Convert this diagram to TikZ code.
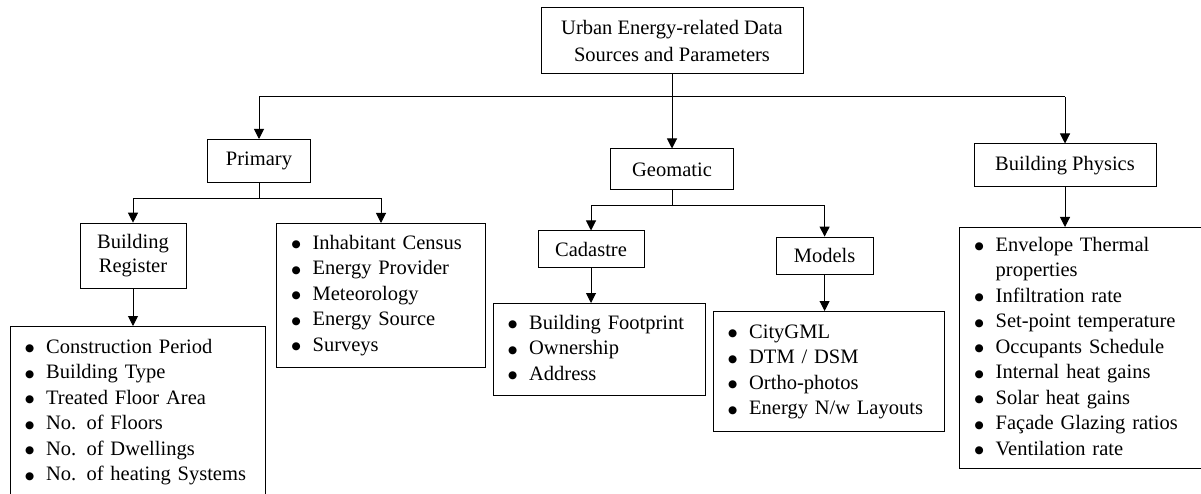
\documentclass[tikz,border=0pt]{standalone}
\usepackage{fontspec}
\setmainfont{Liberation Serif}
\newfontfamily\symfont{DejaVu Sans}
\usetikzlibrary{arrows.meta}
\newcommand{\bigbul}{\raisebox{1.6pt}{\symfont\fontsize{10.5}{10.5}\selectfont ●}}
\begin{document}
\begin{tikzpicture}[x=1pt,y=-1pt,
  box/.style={draw, line width=1pt, inner sep=0pt, align=center, font=\fontsize{20.5}{25.5}\selectfont},
  listbox/.style={draw, line width=1pt, anchor=north west, inner xsep=15pt, inner ysep=2pt, align=left, font=\fontsize{20.5}{25.5}\selectfont},
  arr/.style={line width=1pt, -{Triangle[width=10pt,length=10pt]}},
  ln/.style={line width=1pt}]
\useasboundingbox (0,0) rectangle (1201,494);

% header boxes
\node[box, minimum width=262pt, minimum height=66pt, font=\fontsize{20.5}{26.5}\selectfont] (top) at (672,41) {Urban Energy-related Data\\Sources and Parameters};
\node[box, minimum width=102.5pt, minimum height=43pt] (prim) at (259,161) {Primary};
\node[box, minimum width=123pt, minimum height=41pt] (geo) at (672,169.5) {Geomatic};
\node[box, minimum width=182pt, minimum height=43pt] (bp) at (1065,165.5) {Building Physics};
\node[box, minimum width=106pt, minimum height=65pt, font=\fontsize{20.5}{23.5}\selectfont] (br) at (133,255.7) {Building\\Register};
\node[box, minimum width=106pt, minimum height=36pt] (cad) at (591,249) {Cadastre};
\node[box, minimum width=97pt, minimum height=37pt] (mod) at (824.6,255.6) {Models};

% list boxes
\node[listbox, minimum width=255.5pt, text width=225.5pt, minimum height=171pt] (brl) at (9.5,326) {%
\begin{tabular}{@{}l@{\hspace{12pt}}l@{}}
\bigbul & Construction Period\\
\bigbul & Building Type\\
\bigbul & Treated Floor Area\\
\bigbul & No. of Floors\\
\bigbul & No. of Dwellings\\
\bigbul & No. of heating Systems
\end{tabular}};
\node[listbox, minimum width=209pt, text width=179pt, minimum height=143.5pt] (inh) at (276,223) {%
\begin{tabular}{@{}l@{\hspace{12pt}}l@{}}
\bigbul & Inhabitant Census\\
\bigbul & Energy Provider\\
\bigbul & Meteorology\\
\bigbul & Energy Source\\
\bigbul & Surveys
\end{tabular}};
\node[listbox, minimum width=212.5pt, text width=182.5pt, minimum height=92pt] (fpl) at (492.5,303) {%
\begin{tabular}{@{}l@{\hspace{12pt}}l@{}}
\bigbul & Building Footprint\\
\bigbul & Ownership\\
\bigbul & Address
\end{tabular}};
\node[listbox, minimum width=231.5pt, text width=201.5pt, minimum height=119.5pt] (mdl) at (712.5,311) {%
\begin{tabular}{@{}l@{\hspace{12pt}}l@{}}
\bigbul & CityGML\\
\bigbul & DTM / DSM\\
\bigbul & Ortho-photos\\
\bigbul & Energy N/w Layouts
\end{tabular}};
\node[listbox, minimum width=245pt, text width=215pt, minimum height=241pt] (bpl) at (959,227) {%
\begin{tabular}{@{}l@{\hspace{12pt}}l@{}}
\bigbul & Envelope Thermal\\
 & properties\\
\bigbul & Infiltration rate\\
\bigbul & Set-point temperature\\
\bigbul & Occupants Schedule\\
\bigbul & Internal heat gains\\
\bigbul & Solar heat gains\\
\bigbul & Façade Glazing ratios\\
\bigbul & Ventilation rate
\end{tabular}};

% bus coordinates
\coordinate (b1) at (672,97);
\coordinate (b2) at (259,198.3);
\coordinate (b3) at (672,205.7);

% level 1
\draw[ln] (prim.north |- b1) -- (bp.north |- b1);
\draw[arr] (top.south) -- (geo.north);
\draw[arr] (prim.north |- b1) -- (prim.north);
\draw[arr] (bp.north |- b1) -- (bp.north);

% primary
\draw[ln] (prim.south) -- (b2);
\draw[ln] (br.north |- b2) -- (inh.north |- b2);
\draw[arr] (br.north |- b2) -- (br.north);
\draw[arr] (inh.north |- b2) -- (inh.north);
\draw[arr] (br.south) -- (br.south |- brl.north);

% geomatic
\draw[ln] (geo.south) -- (b3);
\draw[ln] (cad.north |- b3) -- (mod.north |- b3);
\draw[arr] (cad.north |- b3) -- (cad.north);
\draw[arr] (mod.north |- b3) -- (mod.north);
\draw[arr] (cad.south) -- (cad.south |- fpl.north);
\draw[arr] (mod.south) -- (mod.south |- mdl.north);

% building physics
\draw[arr] (bp.south) -- (bp.south |- bpl.north);
\end{tikzpicture}
\end{document}
